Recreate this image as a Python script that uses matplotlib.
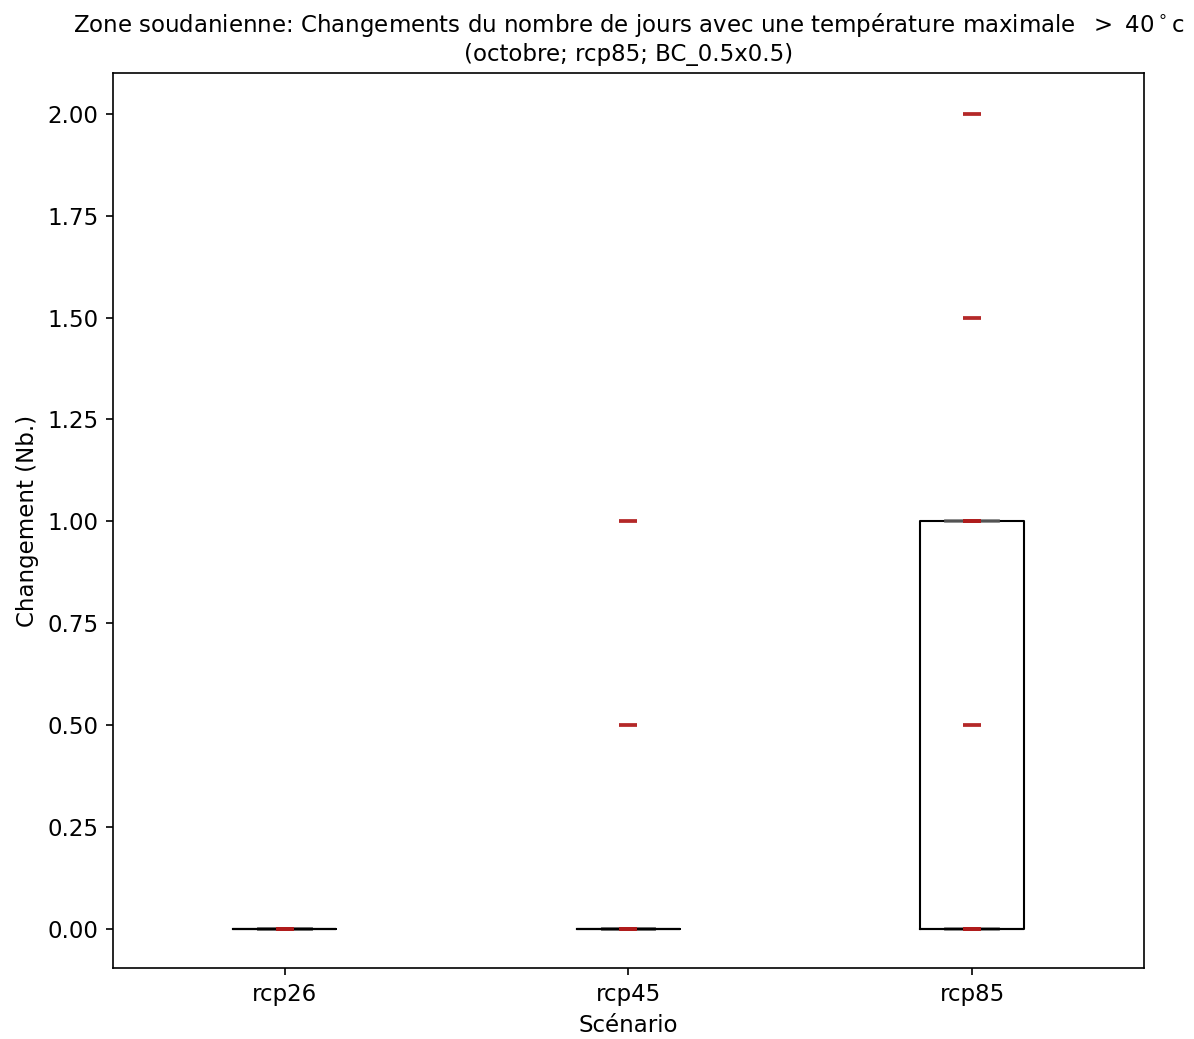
import numpy as np
import matplotlib
matplotlib.use("Agg")
import matplotlib.pyplot as plt

# data: change in number of days (one value per model run)
scenarios = ["rcp26", "rcp45", "rcp85"]
rcp26 = [0, 0, 0, 0, 0, 0, 0, 0, 0, 0, 0]
rcp45 = [0, 0, 0, 0, 0, 0, 0, 0, 0, 0.5, 1]
rcp85 = [0, 0, 0, 0, 0, 0, 0.5, 1, 1, 1.5, 2]
values = [rcp26, rcp45, rcp85]

plt.rcParams['font.size'] = 11

fig = plt.figure(figsize=(7.96, 6.927), dpi=150)
ax = fig.add_subplot(111)
fig.subplots_adjust(left=0.0946, right=0.958, top=0.9297, bottom=0.0683)

pos = np.arange(1, len(scenarios) + 1)
ax.boxplot(values, positions=pos, widths=0.3, whis=(25, 75), showfliers=False,
           boxprops=dict(color="black", linewidth=1),
           whiskerprops=dict(color="black", linewidth=1),
           capprops=dict(color="dimgrey", linewidth=1.8, alpha=0.8),
           medianprops=dict(color="black", linewidth=1))

# individual values, drawn on top of the boxes
for p, v in zip(pos, values):
    ax.plot(np.full(len(v), p), v, linestyle="none", marker="_", markersize=8.5,
            markeredgewidth=1.8, color="#b01c1c", alpha=0.95, zorder=4)

ax.set_xticks(pos)
ax.set_xticklabels(scenarios)
ax.set_xlim(0.5, 3.5)
ax.set_ylim(-0.096, 2.1)
ax.set_xlabel("Scénario")
ax.set_ylabel("Changement (Nb.)")
ax.set_title("Zone soudanienne: Changements du nombre de jours avec une température maximale  $>$ 40$^\\circ$c\n"
             "(octobre; rcp85; BC_0.5x0.5)", fontsize=11)

fig.savefig("out.png", dpi=150)
